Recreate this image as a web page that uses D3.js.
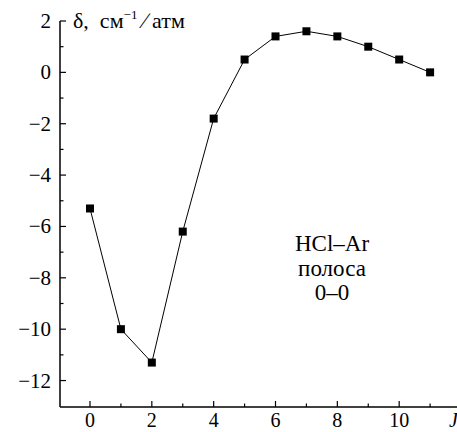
<!DOCTYPE html>
<html>
<head>
<meta charset="utf-8">
<script src="https://cdn.jsdelivr.net/npm/d3@7"></script>
<style>
  body { margin: 0; background: #fff; }
  svg { display: block; }
  text { font-family: "Liberation Serif", "Times New Roman", "DejaVu Serif", serif; fill: #000; }
</style>
</head>
<body>
<div id="chart"></div>
<script>
// Datos
const jValues = [0, 1, 2, 3, 4, 5, 6, 7, 8, 9, 10, 11];
const deltaValues = [-5.3, -10, -11.3, -6.2, -1.8, 0.5, 1.4, 1.6, 1.4, 1.0, 0.5, 0.0];
const xTicks = [0, 2, 4, 6, 8, 10];
const xMinor = [1, 3, 5, 7, 9, 11];
const yTicks = [2, 0, -2, -4, -6, -8, -10, -12];
const yMinor = [1, -1, -3, -5, -7, -9, -11];
const labelLines = ['HCl\u2013Ar', 'полоса', '0\u20130'];

const W = 457, H = 432;
const margin = {top: 21, right: 0, bottom: 25, left: 60};

const svg = d3.select('#chart').append('svg')
    .attr('width', W).attr('height', H);

const x = d3.scaleLinear().domain([-0.97, 11.87]).range([margin.left, W]);
const y = d3.scaleLinear().domain([-13.03, 2]).range([H - margin.bottom, margin.top]);

const fmt = d => d < 0 ? '\u2212' + Math.abs(d) : '' + d;

// Eje X
const xAxis = svg.append('g').attr('transform', `translate(0,${y(-13.03)})`);
xAxis.append('line').attr('x1', margin.left).attr('x2', W)
    .attr('stroke', '#000').attr('stroke-width', 1.5);
xAxis.selectAll('.maj').data(xTicks).enter().append('line')
    .attr('x1', d => x(d)).attr('x2', d => x(d)).attr('y1', 0).attr('y2', -6)
    .attr('stroke', '#000').attr('stroke-width', 1.2);
xAxis.selectAll('.min').data(xMinor).enter().append('line')
    .attr('x1', d => x(d)).attr('x2', d => x(d)).attr('y1', 0).attr('y2', -3.5)
    .attr('stroke', '#000').attr('stroke-width', 1.2);
xAxis.selectAll('.lab').data(xTicks).enter().append('text')
    .attr('x', d => x(d)).attr('y', 20).attr('text-anchor', 'middle')
    .attr('font-size', 20).text(d => d);
xAxis.append('text').attr('x', 449).attr('y', 20).attr('font-size', 20)
    .attr('font-style', 'italic').text('J');

// Eje Y
const yAxis = svg.append('g').attr('transform', `translate(${margin.left},0)`);
yAxis.append('line').attr('y1', y(2)).attr('y2', y(-13.03))
    .attr('stroke', '#000').attr('stroke-width', 1.5);
yAxis.selectAll('.maj').data(yTicks).enter().append('line')
    .attr('y1', d => y(d)).attr('y2', d => y(d)).attr('x1', 0).attr('x2', 6)
    .attr('stroke', '#000').attr('stroke-width', 1.2);
yAxis.selectAll('.min').data(yMinor).enter().append('line')
    .attr('y1', d => y(d)).attr('y2', d => y(d)).attr('x1', 0).attr('x2', 3.5)
    .attr('stroke', '#000').attr('stroke-width', 1.2);
yAxis.selectAll('.lab').data(yTicks).enter().append('text')
    .attr('x', -9).attr('y', d => y(d) + 7).attr('text-anchor', 'end')
    .attr('font-size', 21).text(fmt);

// Título del eje Y
const title = svg.append('text').attr('x', 73).attr('y', 28).attr('font-size', 22)
    .attr('xml:space', 'preserve');
title.append('tspan').text('\u03b4,  см');
title.append('tspan').attr('font-size', 13).attr('dy', -9).text('\u22121');
title.append('tspan').attr('dy', 9).text(' \u2215 атм');

// Línea y puntos
const line = d3.line().x((d, i) => x(jValues[i])).y(d => y(d));
svg.append('path').datum(deltaValues).attr('d', line)
    .attr('fill', 'none').attr('stroke', '#000').attr('stroke-width', 1);
svg.selectAll('.pt').data(deltaValues).enter().append('rect')
    .attr('x', (d, i) => x(jValues[i]) - 4).attr('y', d => y(d) - 4)
    .attr('width', 8).attr('height', 8).attr('fill', '#000');

// Etiqueta
svg.selectAll('.note').data(labelLines).enter().append('text')
    .attr('x', 332).attr('y', (d, i) => 251 + i * 24.5).attr('text-anchor', 'middle')
    .attr('font-size', 23).text(d => d);
</script>
</body>
</html>
